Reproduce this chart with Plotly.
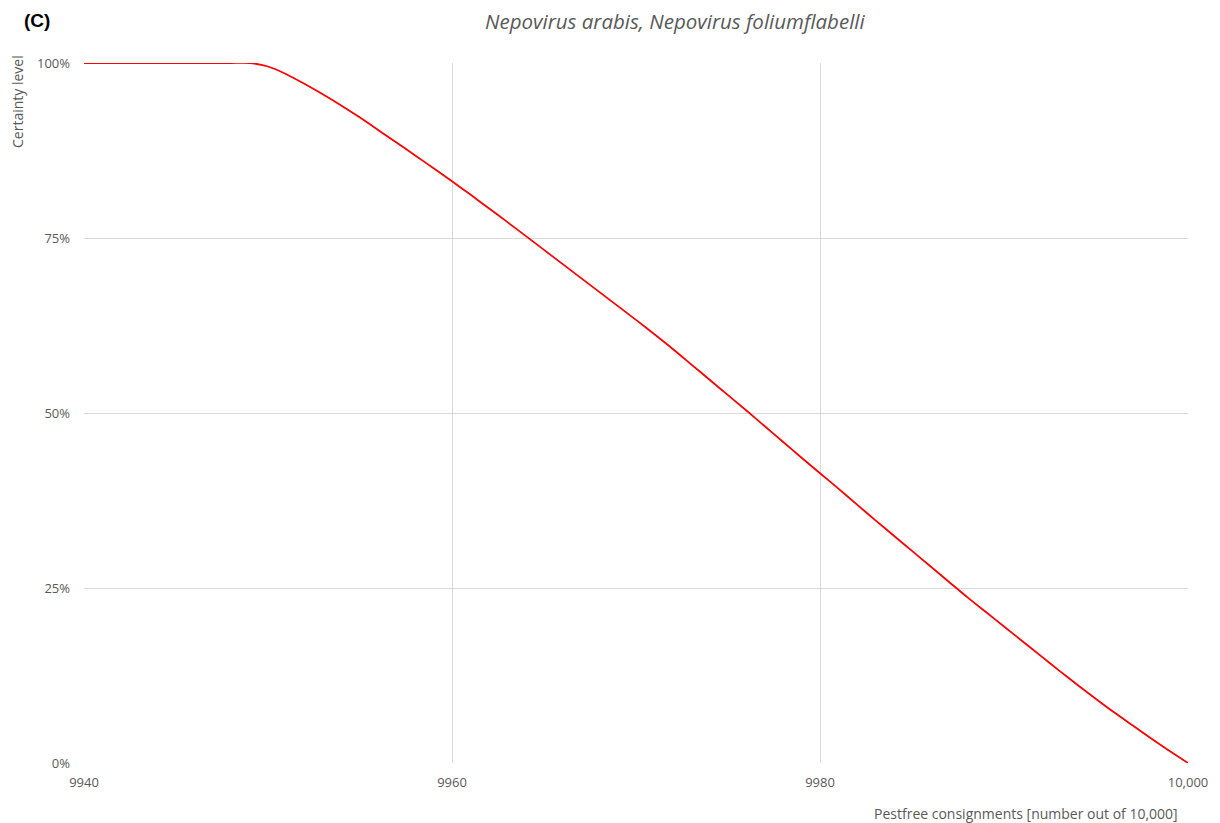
import plotly.graph_objects as go

pestfree = list(range(9940, 10001))
certainty = [100.0]*10 + [
    99.5, 98.4, 97.0, 95.5, 93.9, 92.2, 90.4, 88.6, 86.8, 84.95,
    83.1, 81.2, 79.25, 77.3, 75.3, 73.3, 71.3, 69.3, 67.3, 65.3,
    63.3, 61.25, 59.15, 56.95, 54.75, 52.55, 50.35, 48.1, 45.85, 43.6,
    41.4, 39.2, 36.95, 34.7, 32.5, 30.3, 28.1, 25.9, 23.7, 21.6,
    19.5, 17.4, 15.3, 13.2, 11.15, 9.15, 7.2, 5.35, 3.5, 1.72, 0.0]
certainty = [c / 100 for c in certainty]

x_ticks = [9940, 9960, 9980, 10000]
x_tick_labels = ["9940", "9960", "9980", "10,000"]
y_ticks = [0, 0.25, 0.5, 0.75, 1.0]
y_tick_labels = ["0%", "25%", "50%", "75%", "100%"]

fig = go.Figure()
fig.add_trace(go.Scatter(x=pestfree, y=certainty, mode="lines",
                         line=dict(color="#ff0000", width=1.8, shape="spline", smoothing=0.6),
                         showlegend=False, hoverinfo="x+y"))

grey = "#595959"
W, H = 1220, 823
L, R, T, B = 84, 24, 63, 60
fig.update_layout(
    width=W, height=H,
    margin=dict(l=L, r=R, t=T, b=B),
    paper_bgcolor="white", plot_bgcolor="white",
    font=dict(family="Open Sans, sans-serif", size=13, color=grey),
    xaxis=dict(range=[9940, 10000], tickvals=x_ticks, ticktext=x_tick_labels,
               showgrid=True, gridcolor="#d9d9d9", gridwidth=1, zeroline=False,
               showline=False, ticks="", ticklabelstandoff=10,
               tickfont=dict(size=13, color=grey)),
    yaxis=dict(range=[0, 1.0], tickvals=y_ticks, ticktext=y_tick_labels,
               showgrid=True, gridcolor="#d9d9d9", gridwidth=1, zeroline=False,
               showline=False, ticks="", ticklabelstandoff=13,
               tickfont=dict(size=13, color=grey)),
)

pw = W - L - R
ph = H - T - B
fig.update_layout(annotations=[
    dict(text="<b>(C)</b>", x=(37 - L) / pw, y=1 + (T - 20) / ph,
         xref="paper", yref="paper", xanchor="center", yanchor="middle",
         showarrow=False, font=dict(family="Liberation Sans, Arial", size=19, color="black")),
    dict(text="<i>Nepovirus arabis, Nepovirus foliumflabelli</i>",
         x=(679 - L) / pw, y=1 + (T - 21) / ph, xref="paper", yref="paper",
         xanchor="center", yanchor="middle", showarrow=False,
         font=dict(family="Open Sans, sans-serif", size=20.5, color=grey)),
    dict(text="Pestfree consignments [number out of 10,000]",
         x=(1188 - L) / pw, y=-(813 - (H - B)) / ph, xref="paper", yref="paper",
         xanchor="right", yanchor="middle", showarrow=False,
         font=dict(size=14, color=grey)),
    dict(text="Certainty level", x=(17 - L) / pw, y=1 + (T - 53) / ph,
         xref="paper", yref="paper", xanchor="center", yanchor="top",
         showarrow=False, textangle=-90, font=dict(size=14, color=grey)),
])

fig.write_html("out.html", config={"displayModeBar": False})

# remove default page margin so the figure sits at the window's top-left corner
with open("out.html", "r", encoding="utf-8") as f:
    html = f.read()
html = html.replace("<head>", "<head><style>html,body{margin:0;padding:0;overflow:hidden;}</style>", 1)
with open("out.html", "w", encoding="utf-8") as f:
    f.write(html)
